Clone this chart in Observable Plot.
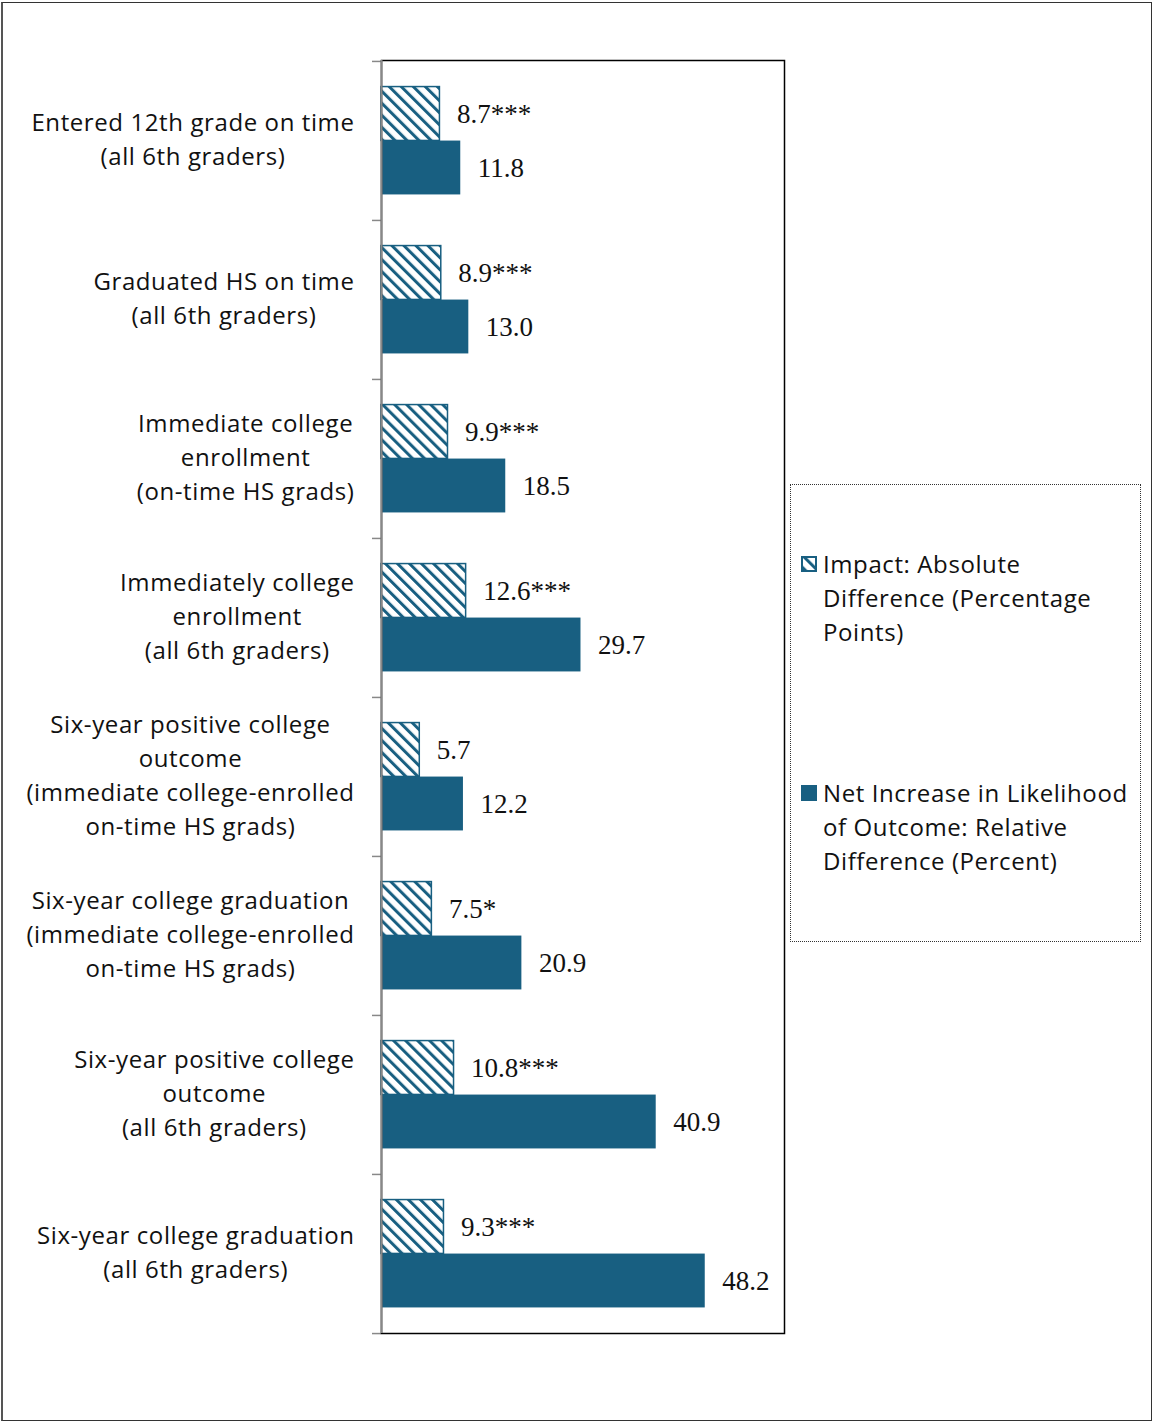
<!DOCTYPE html>
<html>
<head>
<meta charset="utf-8">
<script src="https://cdn.jsdelivr.net/npm/d3@7"></script>
<script src="https://cdn.jsdelivr.net/npm/@observablehq/plot@0.6"></script>
<style>
  html, body { margin: 0; padding: 0; background: #fff; }
  #wrap { position: relative; width: 1154px; height: 1423px; overflow: hidden; }
  #border { position: absolute; left: 1px; top: 2px; width: 1151px; height: 1419px; box-sizing: border-box; border: 1.5px solid #333; border-left: 2px solid #555; pointer-events: none; }
  #chart { position: absolute; left: 0; top: 0; }
  #chart g[font-family="Open Sans"] { letter-spacing: 0.6px; }
  #legend { position: absolute; left: 790px; top: 484px; width: 351px; height: 458px; box-sizing: border-box; border: 1.5px dotted #333; font-family: "Open Sans", sans-serif; font-size: 24px; letter-spacing: 0.6px; line-height: 34px; color: #111; white-space: nowrap; }
  .item { position: absolute; left: 32px; }
  .item .sw { position: absolute; left: -22px; top: 9px; width: 16px; height: 16px; box-sizing: border-box; }
</style>
</head>
<body>
<div id="wrap">
  <div id="chart"></div>
  <div id="legend"></div>
  <div id="border"></div>
</div>
<script>
const categories = [
  "Entered 12th grade on time\n(all 6th graders)",
  "Graduated HS on time\n(all 6th graders)",
  "Immediate college\nenrollment\n(on-time HS grads)",
  "Immediately college\nenrollment\n(all 6th graders)",
  "Six-year positive college\noutcome\n(immediate college-enrolled\non-time HS grads)",
  "Six-year college graduation\n(immediate college-enrolled\non-time HS grads)",
  "Six-year positive college\noutcome\n(all 6th graders)",
  "Six-year college graduation\n(all 6th graders)"
];
const impact = [8.7, 8.9, 9.9, 12.6, 5.7, 7.5, 10.8, 9.3];
const impactStars = ["***", "***", "***", "***", "", "*", "***", "***"];
const netIncrease = [11.8, 13.0, 18.5, 29.7, 12.2, 20.9, 40.9, 48.2];
const seriesNames = [
  "Impact: Absolute\nDifference (Percentage\nPoints)",
  "Net Increase in Likelihood\nof Outcome: Relative\nDifference (Percent)"
];
const xDomain = [0, 60];

const color = "#185f81";
const W = 1154, H = 1423;
const mL = 381, mR = 370, mT = 60, mB = 90;
const frameW = W - mL - mR;
const bw = (H - mT - mB) / categories.length;
const barH = 54;
const pad = (bw - 2 * barH) / 2;

const impactData = categories.map((c, i) => ({cat: c, value: impact[i], label: impact[i].toFixed(1) + impactStars[i]}));
const netData = categories.map((c, i) => ({cat: c, value: netIncrease[i], label: netIncrease[i].toFixed(1)}));

// measure label widths for centered multi-line blocks that are right-aligned
const ctx = document.createElement("canvas").getContext("2d");
ctx.font = "24px 'Open Sans'";
const spacing = 0.6;
const lineW = s => ctx.measureText(s).width + spacing * s.length;
const blockWidth = c => Math.max(...c.split("\n").map(lineW));

const labelMarks = categories.map(c => Plot.text([c], {
  y: d => d,
  text: d => d,
  frameAnchor: "left",
  textAnchor: "middle",
  dx: -(27 + blockWidth(c) / 2),
  dy: -4,
  fontFamily: "Open Sans",
  fontSize: 24,
  lineHeight: 1.417,
  fill: "#111"
}));

const chart = Plot.plot({
  width: W,
  height: H,
  marginLeft: mL,
  marginRight: mR,
  marginTop: mT,
  marginBottom: mB,
  x: {domain: xDomain, axis: null},
  y: {domain: categories, axis: null, padding: 0},
  marks: [
    Plot.barX(impactData, {y: "cat", x: "value", fill: "url(#hatch)", stroke: color, strokeWidth: 1.5, insetTop: pad, insetBottom: pad + barH}),
    Plot.barX(netData, {y: "cat", x: "value", fill: color, insetTop: pad + barH, insetBottom: pad}),
    Plot.text(impactData, {y: "cat", x: "value", text: "label", dy: -barH / 2, dx: 17, textAnchor: "start", fontFamily: "Liberation Serif", fontSize: 27, fill: "#111"}),
    Plot.text(netData, {y: "cat", x: "value", text: "label", dy: barH / 2, dx: 17, textAnchor: "start", fontFamily: "Liberation Serif", fontSize: 27, fill: "#111"}),
    Plot.ruleY(categories, {y: d => d, dy: -bw / 2, dx: -9, insetRight: frameW - 9, stroke: "#888", strokeWidth: 1.5}),
    Plot.ruleY(categories.slice(-1), {y: d => d, dy: bw / 2, dx: -9, insetRight: frameW - 9, stroke: "#888", strokeWidth: 1.5}),
    Plot.frame({stroke: "#000", strokeWidth: 1.5}),
    Plot.ruleX([0], {stroke: "#888", strokeWidth: 2}),
    ...labelMarks
  ]
});

const defs = `<defs><pattern id="hatch" patternUnits="userSpaceOnUse" width="8.5" height="8.5" patternTransform="rotate(-45)"><rect width="8.5" height="8.5" fill="#fff"/><rect width="3" height="8.5" fill="${color}"/></pattern></defs>`;
chart.insertAdjacentHTML("afterbegin", defs);
document.getElementById("chart").appendChild(chart);

const legend = document.getElementById("legend");
const tops = [62, 291];
seriesNames.forEach((name, i) => {
  const item = document.createElement("div");
  item.className = "item";
  item.style.top = tops[i] + "px";
  const sw = i === 0
    ? `<svg class="sw" width="16" height="16"><rect x="1" y="1" width="14" height="14" fill="url(#hatch)" stroke="${color}" stroke-width="2"/></svg>`
    : `<div class="sw" style="background:${color}"></div>`;
  item.innerHTML = sw + name.split("\n").join("<br>");
  legend.appendChild(item);
});
</script>
</body>
</html>
